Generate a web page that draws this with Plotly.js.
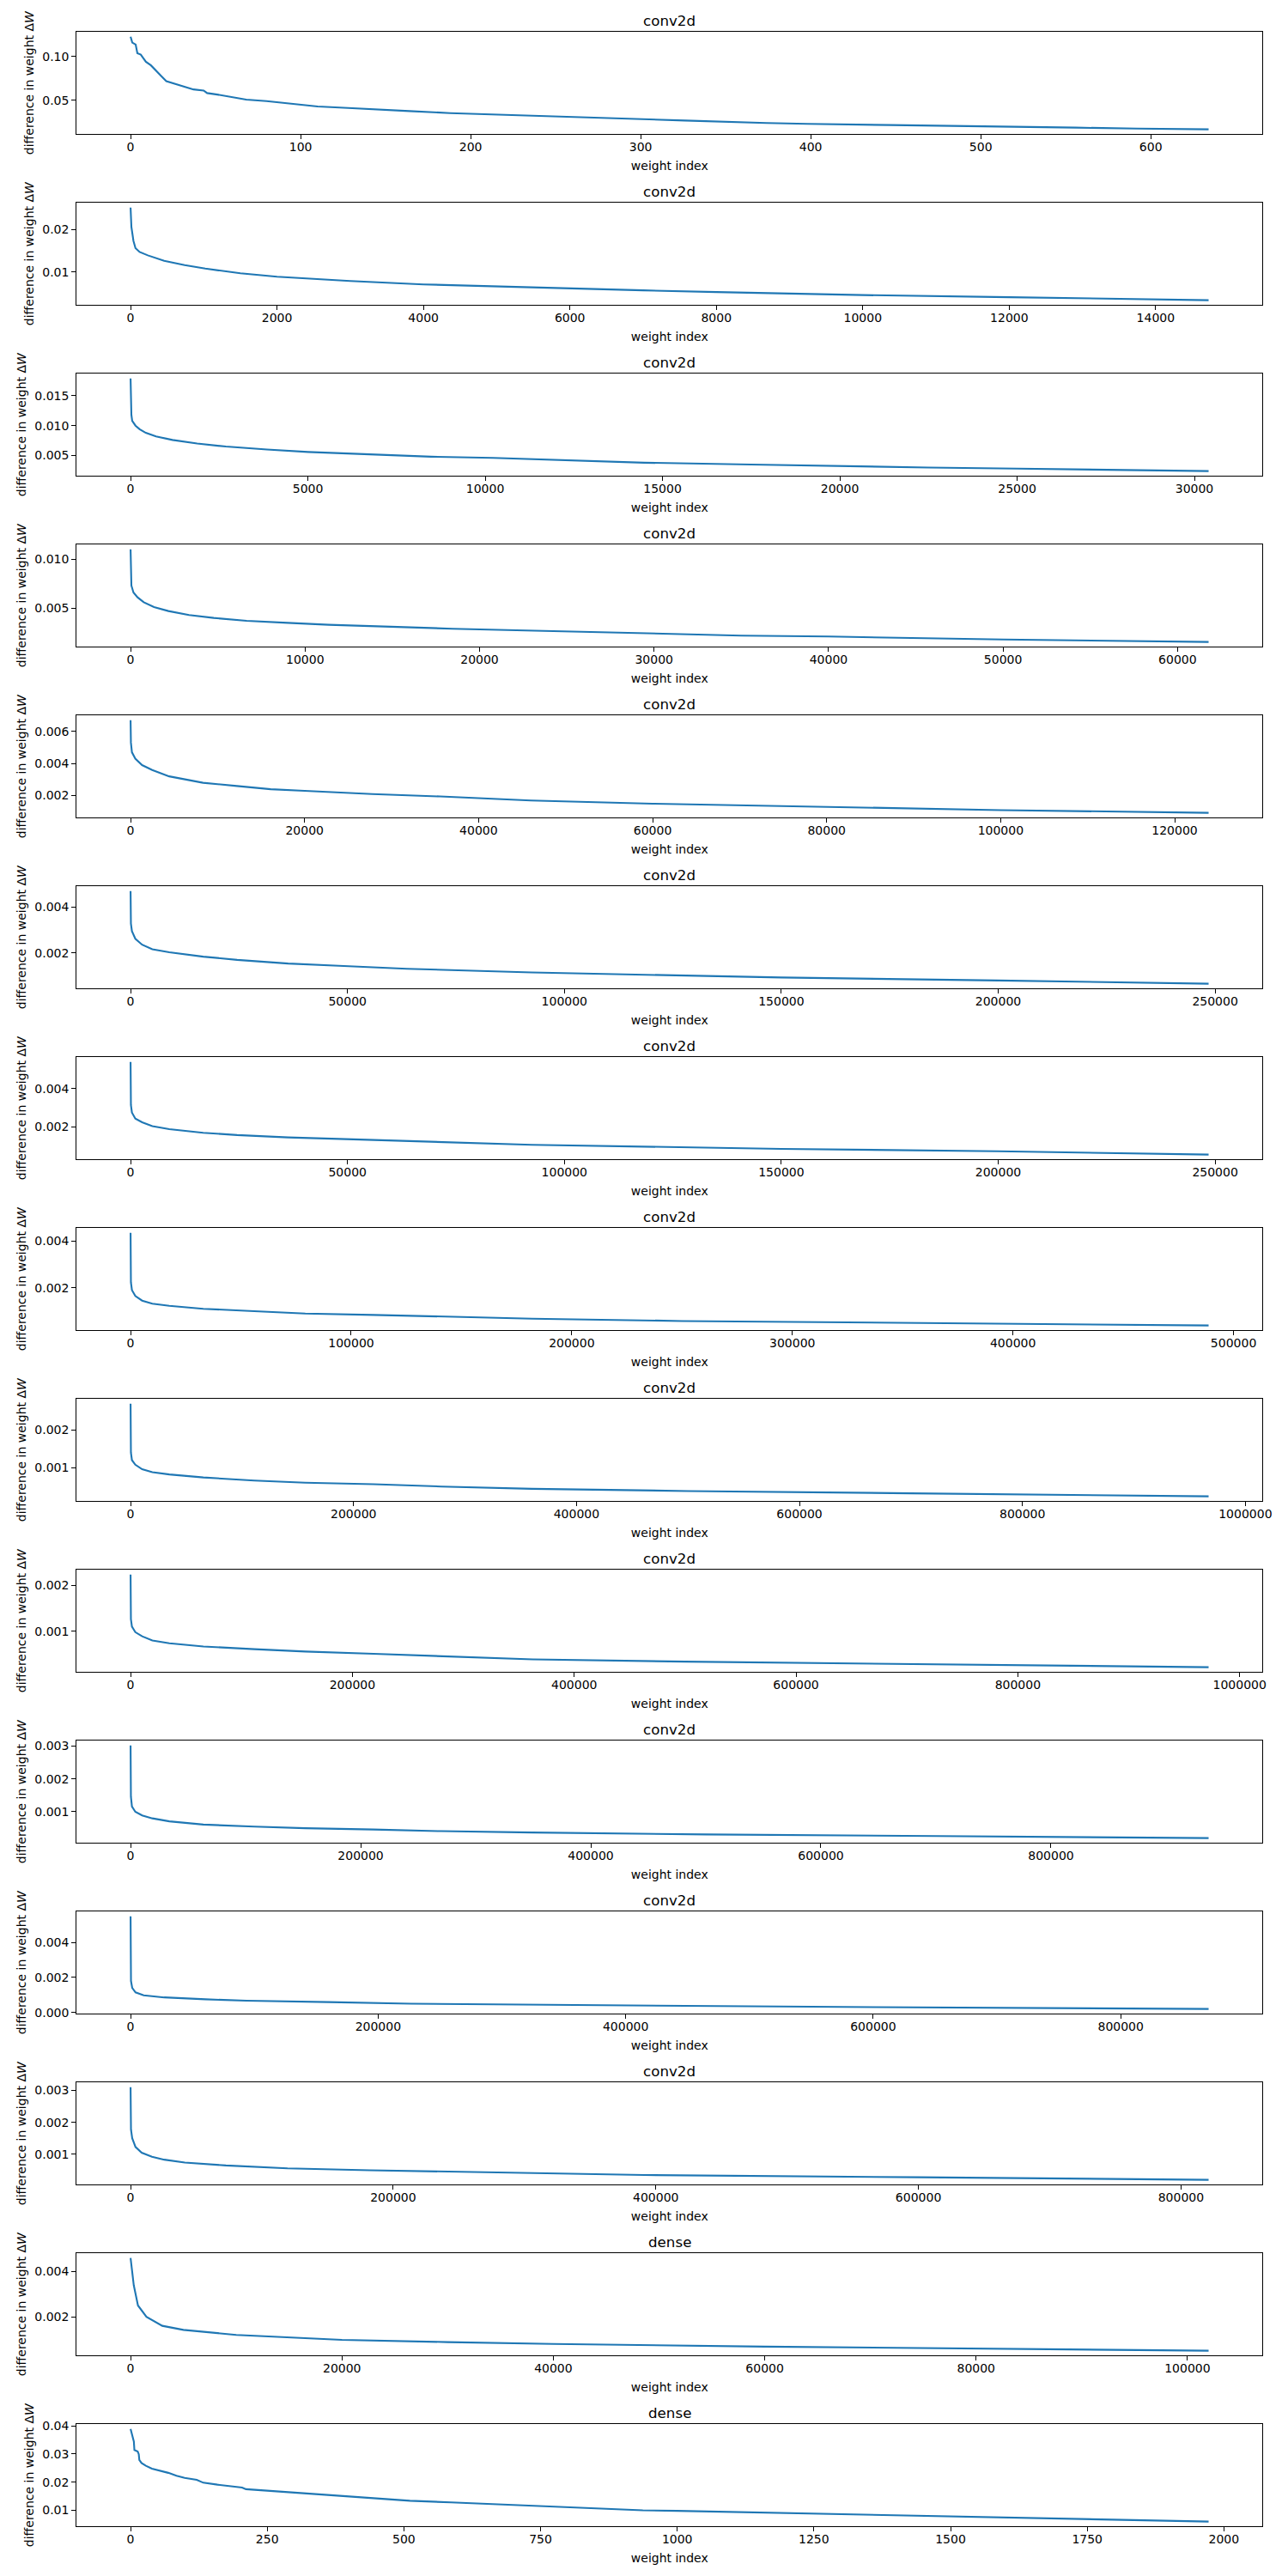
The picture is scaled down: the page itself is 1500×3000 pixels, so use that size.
<!DOCTYPE html>
<html>
<head>
<meta charset="utf-8">
<script src="https://cdn.plot.ly/plotly-3.0.1.min.js"></script>
<style>html,body{margin:0;padding:0;background:#ffffff;}</style>
</head>
<body>
<div id="chart" style="width:1500px;height:3000px;"></div>
<script>
// ---- data ----
const layerNames = ["conv2d","conv2d","conv2d","conv2d","conv2d","conv2d","conv2d","conv2d","conv2d","conv2d","conv2d","conv2d","conv2d","dense","dense"];
const xTickStep = [100, 2000, 5000, 10000, 20000, 50000, 50000, 100000, 200000, 200000, 200000, 200000, 200000, 20000, 250];
const yTickStep = [0.05, 0.01, 0.005, 0.005, 0.002, 0.002, 0.002, 0.002, 0.001, 0.001, 0.001, 0.002, 0.001, 0.002, 0.01];
const yTickFormat = [".2f", ".2f", ".3f", ".3f", ".3f", ".3f", ".3f", ".3f", ".3f", ".3f", ".3f", ".3f", ".3f", ".3f", ".2f"];
const xLabel = "weight index";
const yLabel = "difference in weight Δ<i>W</i>";

const idx1 = [0,1,3,4,6,9,12,15,18,21,26,31,37,43,45,51,58,68,80,92,106,110,128,140,164,188,212,237,261,285,301,326,374,398,447,495,531,556,592,634];
const dw1  = [0.1228,0.1160,0.1137,0.1039,0.1023,0.0941,0.0899,0.0843,0.0778,0.0719,0.0690,0.0654,0.0624,0.0611,0.0582,0.0565,0.0539,0.0507,0.0490,0.0467,0.0441,0.0428,0.0412,0.0402,0.0376,0.0353,0.0337,0.0320,0.0304,0.0294,0.0281,0.0268,0.0239,0.0229,0.0216,0.0206,0.0196,0.0186,0.0176,0.0167];

const idx2 = [0,11,39,67,123,235,459,739,1020,1500,2000,3000,4000,5000,6000,7000,8000,10000,12000,14000,14723];
const dw2  = [0.0251,0.0206,0.0173,0.0156,0.0147,0.0139,0.0126,0.0116,0.0108,0.0097,0.0089,0.0079,0.0071,0.0066,0.0061,0.0057,0.0053,0.0046,0.0041,0.0036,0.0034];

const idx3 = [0,12,23,46,139,255,429,718,1182,1877,2688,3847,5006,6744,8482,10220,12538,14485,17500,20000,22500,25000,27500,30400];
const dw3  = [0.0179,0.0141,0.0118,0.0108,0.0100,0.0094,0.0088,0.0082,0.0076,0.0070,0.0065,0.0060,0.0056,0.0052,0.0048,0.0046,0.0042,0.0038,0.0035,0.0032,0.0030,0.0028,0.0026,0.0024];

const idx4 = [0,24,47,165,400,755,1344,2170,3349,4764,6651,9009,11368,14906,18443,23160,29481,35000,40000,50000,61780];
const dw4  = [0.0110,0.0086,0.0073,0.0066,0.0061,0.0056,0.0051,0.0047,0.0043,0.0040,0.0037,0.0035,0.0033,0.0031,0.0029,0.0027,0.0024,0.0022,0.0021,0.0018,0.00155];

const idx5 = [0,39,156,545,1323,2490,4436,8327,12218,16109,20000,27782,35564,46000,60000,80000,100000,123900];
const dw5  = [0.0067,0.0053,0.0047,0.0043,0.0039,0.0036,0.0032,0.0028,0.0026,0.0024,0.0023,0.0021,0.00195,0.0017,0.0015,0.0013,0.0011,0.00093];

const idx6 = [0,78,313,1096,2660,5008,8920,16745,24570,36307,48044,63693,92488,150000,200000,248500];
const dw6  = [0.0047,0.00328,0.00295,0.00262,0.00236,0.00216,0.00203,0.00184,0.00170,0.00154,0.00144,0.00131,0.00115,0.00093,0.00080,0.00066];

const idx7 = [0,78,313,1096,2660,5008,8920,16745,24570,36307,48044,63693,92488,150000,200000,248500];
const dw7  = [0.0054,0.00314,0.00275,0.00243,0.00224,0.00204,0.00188,0.00169,0.00157,0.00145,0.00137,0.00125,0.00106,0.00085,0.00072,0.00055];

const idx8 = [0,154,616,2157,5239,9861,17565,32974,56086,79200,110169,140986,182100,250000,350000,488700];
const dw8  = [0.00435,0.00223,0.00190,0.00165,0.00145,0.00132,0.00123,0.00110,0.00100,0.00090,0.00084,0.00077,0.00068,0.00058,0.00049,0.00039];

const idx9 = [0,305,1220,4268,10366,19512,34756,65244,110976,156700,217683,278660,360366,500000,700000,967000];
const dw9  = [0.0027,0.00140,0.00120,0.00108,0.00096,0.00088,0.00082,0.00074,0.00066,0.00060,0.00056,0.00050,0.00044,0.00038,0.00032,0.00024];

const idx10 = [0,307,1227,4294,10429,19632,34969,65644,111656,157669,219018,280368,362577,500000,700000,972000];
const dw10  = [0.00223,0.00126,0.00110,0.00098,0.00089,0.00080,0.00074,0.00067,0.00061,0.00056,0.00051,0.00046,0.00039,0.00034,0.00029,0.00022];

const idx11 = [0,295,1182,4136,10044,18907,33678,63220,107533,151846,210931,270015,349188,500000,700000,937000];
const dw11  = [0.00302,0.00146,0.00116,0.00100,0.00089,0.00080,0.00071,0.00061,0.00055,0.00050,0.00046,0.00041,0.00037,0.00031,0.00026,0.00020];

const idx12 = [0,100,330,1330,4000,10600,27200,60500,93700,160000,226600,293000,359500,415000,600000,871000];
const dw12  = [0.0055,0.0031,0.0018,0.0014,0.00115,0.00098,0.00086,0.00075,0.00067,0.00059,0.00050,0.00046,0.00042,0.00038,0.00030,0.00020];

const idx13 = [0,313,1250,3755,8450,16275,25665,41315,72615,119570,182175,244775,307355,391235,600000,821000];
const dw13  = [0.0031,0.00177,0.00150,0.00123,0.00105,0.00092,0.00083,0.00074,0.00065,0.00056,0.00050,0.00045,0.00041,0.00035,0.00028,0.00020];

const idx14 = [0,300,700,1500,3000,5000,10000,20000,30000,40000,60000,80000,102000];
const dw14  = [0.0046,0.0034,0.0025,0.0020,0.0016,0.00142,0.0012,0.00098,0.00088,0.0008,0.00068,0.00059,0.0005];

const idx15 = [0,3,6,7,13,15,16,20,28,39,54,69,84,99,121,133,159,181,204,211,249,286,361,436,511,586,661,736,811,937,1000,1127,1250,1390,1500,1615,1750,1877,1972];
const dw15  = [0.0389,0.0366,0.0344,0.0314,0.0309,0.0299,0.0279,0.0268,0.0258,0.0248,0.0241,0.0233,0.0223,0.0215,0.0208,0.0198,0.0191,0.0186,0.0181,0.0175,0.0170,0.0165,0.0155,0.0144,0.0134,0.0128,0.0122,0.0115,0.0108,0.0100,0.0098,0.0093,0.0087,0.0081,0.0077,0.0072,0.0067,0.0063,0.0060];

const indices = [idx1,idx2,idx3,idx4,idx5,idx6,idx7,idx8,idx9,idx10,idx11,idx12,idx13,idx14,idx15];
const diffs   = [dw1,dw2,dw3,dw4,dw5,dw6,dw7,dw8,dw9,dw10,dw11,dw12,dw13,dw14,dw15];

// ---- layout (pixel geometry of the figure) ----
const W = 1500, H = 3000;
const left = 89.3, right = 1470.3, firstTop = 37.3, pitch = 199.0, panelH = 118.7;
const FONT = "DejaVu Sans, Liberation Sans, sans-serif";

const traces = [];
const layout = {
  width: W, height: H,
  margin: {l: 0, r: 0, t: 0, b: 0},
  paper_bgcolor: "#ffffff", plot_bgcolor: "#ffffff",
  showlegend: false,
  font: {family: FONT, size: 14, color: "#000000"},
  annotations: []
};

indices.forEach(function (xs, i) {
  const ys = diffs[i];
  const n = i + 1;
  const xName = n === 1 ? "x" : "x" + n;
  const yName = n === 1 ? "y" : "y" + n;
  const xKey = n === 1 ? "xaxis" : "xaxis" + n;
  const yKey = n === 1 ? "yaxis" : "yaxis" + n;

  traces.push({
    type: "scatter", mode: "lines", x: xs, y: ys,
    xaxis: xName, yaxis: yName,
    line: {color: "#1f77b4", width: 2.1},
    hoverinfo: "x+y", showlegend: false
  });

  const xmax = Math.max.apply(null, xs), xmin = Math.min.apply(null, xs);
  const ymax = Math.max.apply(null, ys), ymin = Math.min.apply(null, ys);
  const xs5 = 0.05 * (xmax - xmin), ys5 = 0.05 * (ymax - ymin);

  const top = firstTop + pitch * i;
  const bottom = top + panelH;
  const yDom = [1 - bottom / H, 1 - top / H];
  const xDom = [left / W, right / W];

  const common = {
    showline: true, mirror: true, linecolor: "#000000", linewidth: 1.1,
    ticks: "outside", ticklen: 5, tickwidth: 1.1, tickcolor: "#000000",
    showgrid: false, zeroline: false,
    tickfont: {family: FONT, size: 14, color: "#000000"},
    automargin: false
  };

  layout[xKey] = Object.assign({}, common, {
    domain: xDom, anchor: yName,
    range: [xmin - xs5, xmax + xs5],
    tick0: 0, dtick: xTickStep[i], tickformat: "d",
    ticklabelstandoff: -3,
    title: {text: xLabel, font: {family: FONT, size: 14, color: "#000000"}, standoff: 10}
  });
  layout[yKey] = Object.assign({}, common, {
    domain: yDom, anchor: xName,
    range: [ymin - ys5, ymax + ys5],
    tick0: 0, dtick: yTickStep[i], tickformat: yTickFormat[i],
    title: {text: yLabel, font: {family: FONT, size: 14, color: "#000000"}, standoff: 6}
  });

  layout.annotations.push({
    text: layerNames[i], showarrow: false,
    xref: "paper", yref: "paper",
    x: (xDom[0] + xDom[1]) / 2, y: yDom[1],
    xanchor: "center", yanchor: "middle", yshift: 13.5,
    font: {family: FONT, size: 16.7, color: "#000000"}
  });
});

Plotly.newPlot("chart", traces, layout, {staticPlot: false, displayModeBar: false});
</script>
</body>
</html>
